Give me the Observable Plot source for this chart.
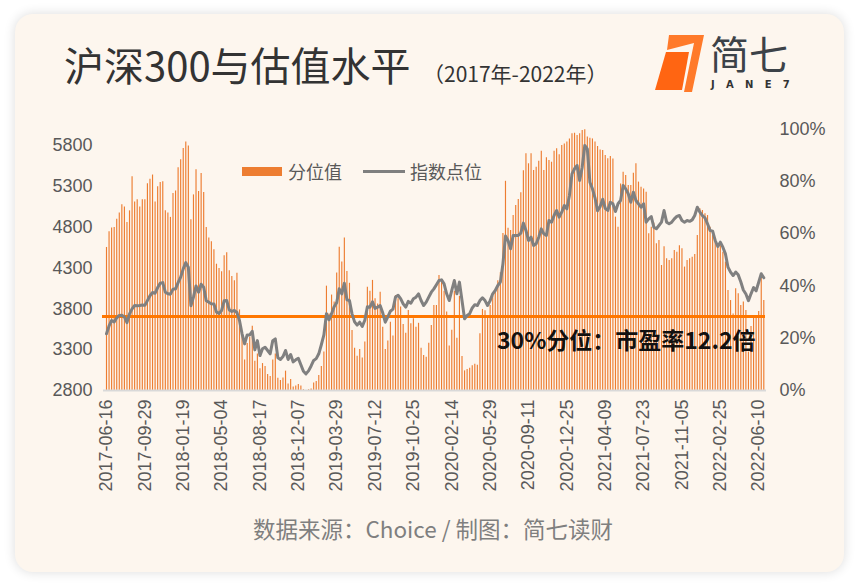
<!DOCTYPE html>
<html>
<head>
<meta charset="utf-8">
<script src="https://cdn.jsdelivr.net/npm/d3@7"></script>
<script src="https://cdn.jsdelivr.net/npm/@observablehq/plot@0.6"></script>
<style>
html,body{margin:0;padding:0;background:#ffffff;width:860px;height:586px;overflow:hidden;}
#card{position:absolute;left:15px;top:14px;width:829px;height:558px;border-radius:18px;background:#fdf6ee;box-shadow:0 0 12px rgba(0,0,0,0.14);}
.t{position:absolute;white-space:nowrap;font-family:"Noto Sans CJK SC","Noto Sans",sans-serif;line-height:1;}
#chart{position:absolute;left:0;top:0;}
</style>
</head>
<body>
<div id="card"></div>
<div class="t" style="left:64px;top:44px;font-size:40px;color:#333;">沪深300与估值水平</div>
<div class="t" style="left:423px;top:63px;font-size:21px;color:#333;">（2017年-2022年）</div>
<svg style="position:absolute;left:640px;top:25px" width="160" height="75" viewBox="640 25 160 75">
  <polygon points="669,35 704,35 692,92 684,92 694,43 667,50" fill="#ff7a2a"/>
  <polygon points="666,52 689,52 682,90 655,90" fill="#ff6512"/>
</svg>
<div class="t" style="left:710px;top:33px;font-size:39px;color:#3c4248;">简七</div>
<div class="t" style="left:711px;top:80px;font-size:10px;color:#333;letter-spacing:11.3px;font-family:'DejaVu Sans',sans-serif;font-weight:bold;">JANE7</div>

<div id="chart"></div>

<div style="position:absolute;left:242px;top:167px;width:40px;height:9px;background:#ed7d31;"></div>
<div class="t" style="left:288px;top:162px;font-size:18px;color:#595959;">分位值</div>
<div style="position:absolute;left:363px;top:170px;width:42px;height:3px;background:#7f7f7f;"></div>
<div class="t" style="left:410px;top:162px;font-size:18px;color:#595959;">指数点位</div>

<div class="t" style="left:497px;top:328px;font-size:23px;color:#111;font-weight:bold;">30%分位：市盈率12.2倍</div>
<div class="t" style="left:0;width:866px;text-align:center;top:517px;font-size:22.5px;color:#7f7f7f;">数据来源：Choice / 制图：简七读财</div>

<script>
// x tick labels: every 15th weekly observation
const tickLabels = ["2017-06-16","2017-09-29","2018-01-19","2018-05-04","2018-08-17","2018-12-07",
  "2019-03-29","2019-07-12","2019-10-25","2020-02-14","2020-05-29","2020-09-11",
  "2020-12-25","2021-04-09","2021-07-23","2021-11-05","2022-02-25","2022-06-10"];

// PE percentile (%), weekly
const pct = [
  54.7,60.7,62.1,62.3,65.5,67.9,71.0,70.2,64.2,68.7,
  81.7,72.1,72.9,70.2,72.9,72.9,79.1,80.8,82.4,72.1,
  77.9,79.5,79.8,68.7,67.9,66.2,75.3,76.3,85.2,88.2,
  92.5,95.0,93.5,65.3,74.8,84.4,76.1,83.0,75.7,62.3,
  58.3,56.9,53.8,48.3,46.7,45.4,51.5,52.7,45.8,43.6,
  42.0,44.8,30.8,22.0,11.7,18.0,20.4,24.6,11.2,14.0,
  8.3,10.3,9.2,6.1,5.4,11.7,14.0,4.7,3.8,4.8,
  7.4,2.5,4.2,1.3,1.7,2.3,1.7,0.3,0.0,0.3,
  0.6,2.9,3.4,5.7,9.2,14.7,39.9,29.3,36.5,33.8,
  44.9,54.8,49.1,58.3,45.5,41.0,22.9,16.2,13.1,15.7,
  12.4,18.5,39.5,38.0,42.1,35.1,33.1,37.6,24.2,15.7,
  18.9,26.1,20.8,36.3,35.1,31.9,25.2,21.9,30.6,25.5,
  27.4,24.2,25.7,16.2,13.4,12.7,18.1,24.9,32.5,32.5,
  44.0,42.0,38.0,30.0,17.0,23.0,38.0,20.0,36.0,13.0,
  7.5,8.0,8.5,9.5,10.0,9.7,21.7,31.0,30.5,28.0,
  32.5,36.0,38.0,42.0,45.0,60.0,80.0,62.0,61.2,66.9,
  70.7,73.0,75.6,84.0,90.5,86.7,90.5,84.1,85.4,87.7,
  91.5,84.1,89.0,88.0,87.3,91.5,92.4,90.2,93.7,94.3,
  95.0,96.2,98.2,98.4,97.5,98.2,99.4,99.7,96.9,96.5,
  96.2,95.0,93.3,92.0,91.8,89.9,88.6,89.5,88.5,66.3,
  62.4,79.0,83.5,82.2,78.4,78.4,83.1,86.7,79.7,77.7,
  77.1,75.8,59.9,62.4,64.0,56.1,57.4,47.8,55.0,50.4,
  49.7,50.4,53.5,52.9,55.4,54.2,47.2,49.7,50.4,51.0,
  52.0,59.3,69.5,68.8,67.6,66.9,62.4,59.3,58.0,56.0,
  55.4,52.9,49.1,38.2,34.4,29.3,38.9,37.0,32.5,33.8,
  30.6,14.7,24.5,27.7,28.3,30.2,43.6,34.4
];

// CSI 300 index level, weekly
const level = [
  3494,3590,3657,3640,3690,3718,3720,3700,3630,3738,
  3799,3840,3836,3840,3845,3842,3900,3960,3999,3990,
  4060,4113,4120,4003,3985,3979,4040,4044,4120,4187,
  4289,4365,4309,3837,3942,4080,4003,4100,4064,3898,
  3881,3860,3858,3759,3743,3779,3898,3901,3787,3768,
  3779,3755,3657,3494,3370,3480,3480,3524,3297,3410,
  3227,3310,3330,3290,3249,3410,3432,3200,3180,3215,
  3290,3180,3240,3150,3175,3195,3115,3035,3004,3040,
  3100,3168,3190,3249,3360,3480,3740,3665,3740,3825,
  3875,4044,3983,4113,3910,3901,3738,3640,3600,3636,
  3585,3660,3825,3820,3885,3805,3820,3840,3750,3636,
  3700,3770,3795,3945,3965,3925,3860,3820,3890,3869,
  3922,3942,3983,3901,3840,3881,3942,4003,4044,4095,
  4146,4154,4105,3983,3901,4024,4146,3983,4126,3901,
  3677,3718,3740,3810,3850,3840,3900,3935,3900,3840,
  3900,3983,4024,4085,4126,4350,4690,4636,4534,4697,
  4697,4697,4725,4848,4758,4636,4676,4574,4595,4676,
  4778,4717,4697,4880,4860,4941,5003,4921,4982,5064,
  5023,5186,5451,5513,5553,5370,5533,5798,5757,5349,
  5268,5158,5000,5050,5140,5030,5003,5104,5085,4990,
  5085,5125,5309,5268,5207,5104,5227,5125,5085,5043,
  5085,4860,4901,4929,4799,4779,4819,4860,5003,4860,
  4840,4860,4900,4930,4941,4880,4860,4880,4870,4888,
  4941,5043,4982,4941,4913,4840,4758,4750,4636,4562,
  4615,4554,4472,4309,4248,4207,4250,4215,4130,4030,
  3980,3900,3983,4060,4020,4125,4228,4179
];

const leftTicks = [2800,3300,3800,4300,4800,5300,5800];
const rightTicks = [0,20,40,60,80,100];
const refPct = 28.3; // the "30%分位" reference line

// percentile (0-100) shares the left scale: 0% -> 2800, 100% -> 6000
const leftMin = 2800, leftMax = 6000;
const toLeft = p => leftMin + p * (leftMax - leftMin) / 100;

const rows = pct.map((p, i) => ({i, p, v: level[i]}));
const tickIdx = tickLabels.map((_, k) => k * 15);

const chart = Plot.plot({
  width: 860,
  height: 586,
  marginLeft: 100,
  marginRight: 90,
  marginTop: 128,
  marginBottom: 196,
  style: {background: "transparent", fontFamily: "'Liberation Sans', Arial, sans-serif", fontSize: "18px", color: "#595959"},
  x: {type: "linear", domain: [0, rows.length - 1], range: [106, 763.3], label: null},
  y: {domain: [leftMin, leftMax], range: [390, 128.5], label: null},
  marks: [
    Plot.ruleX(rows, {x: "i", y1: leftMin, y2: d => toLeft(d.p), stroke: "#ed7d31", strokeWidth: 1.15}),
    Plot.ruleY([leftMin], {stroke: "#d9d9d9", strokeWidth: 2, insetLeft: 3, insetRight: 4}),
    Plot.ruleY([toLeft(refPct)], {stroke: "#ff7700", strokeWidth: 3, insetLeft: 2, insetRight: 5}),
    Plot.line(rows, {x: "i", y: "v", stroke: "#808080", strokeWidth: 3, strokeLinejoin: "round"}),
    Plot.axisY(leftTicks, {anchor: "left", tickSize: 0, tickPadding: 8, fontSize: 18, fill: "#595959",
      tickFormat: v => String(v)}),
    Plot.axisY(rightTicks.map(toLeft), {anchor: "right", tickSize: 0, tickPadding: 9, fontSize: 18, fill: "#595959",
      fontFamily: "'Liberation Sans Narrow', 'Liberation Sans', sans-serif",
      tickFormat: v => Math.round((v - leftMin) * 100 / (leftMax - leftMin)) + "%"}),
    Plot.axisX(tickIdx, {anchor: "bottom", tickSize: 0, tickPadding: 9, tickRotate: -90, fontSize: 18, fill: "#595959",
      tickFormat: i => tickLabels[i / 15]})
  ]
});
document.getElementById("chart").appendChild(chart);
</script>
</body>
</html>
